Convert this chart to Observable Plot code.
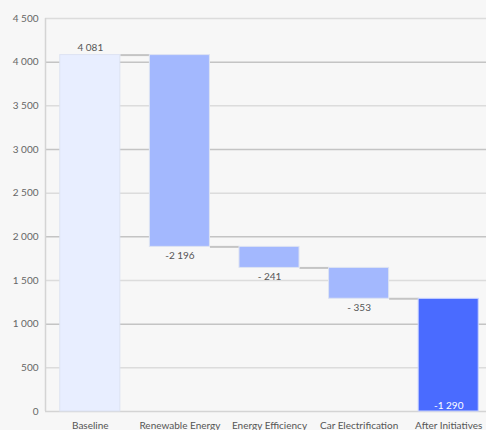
<!DOCTYPE html>
<html>
<head>
<meta charset="utf-8">
<script src="https://cdn.jsdelivr.net/npm/d3@7"></script>
<script src="https://cdn.jsdelivr.net/npm/@observablehq/plot@0.6"></script>
<style>
  html, body { margin: 0; padding: 0; background: #f7f7f7; }
  svg { display: block; }
</style>
</head>
<body>
<div id="chart"></div>
<script>
const categories = ["Baseline", "Renewable Energy", "Energy Efficiency", "Car Electrification", "After Initiatives"];
const values = [4081, -2196, -241, -353, 1290];
const valueLabels = ["4 081", "-2 196", "- 241", "- 353", "-1 290"];
const kinds = ["start", "change", "change", "change", "total"];
const yTicks = [0, 500, 1000, 1500, 2000, 2500, 3000, 3500, 4000, 4500];
const yTickLabels = ["0", "500", "1 000", "1 500", "2 000", "2 500", "3 000", "3 500", "4 000", "4 500"];

// build waterfall table
let running = 0;
const rows = categories.map((c, i) => {
  let y1, y2;
  if (kinds[i] === "change") { y1 = running; y2 = running + values[i]; running = y2; }
  else { y1 = 0; y2 = values[i]; running = values[i]; }
  return {i, c, kind: kinds[i], y1, y2, label: valueLabels[i], top: Math.max(y1, y2), bottom: Math.min(y1, y2)};
});
const connectors = rows.slice(0, -1).map((r, k) => ({x1: r.i + 0.335, x2: r.i + 1 - 0.335, y: r.kind === "change" ? r.y2 : r.y2}));
const half = 0.335;
const color = {start: "#e8eeff", change: "#a3b8fe", total: "#4a6bff"};

const chart = Plot.plot({
  width: 486,
  height: 430,
  marginTop: 18,
  marginBottom: 19,
  marginLeft: 45,
  marginRight: 0,
  style: {background: "#f7f7f7", fontFamily: "Lato, 'Open Sans', sans-serif", fontSize: "10px", color: "#666"},
  x: {domain: [-0.5, 4.5], range: [45, 493], axis: null},
  y: {domain: [0, 4500], range: [411, 18], axis: null},
  marks: [
    Plot.ruleY(yTicks.filter(t => t % 1000 !== 0), {stroke: "#dcdcdc", strokeWidth: 1.5}),
    Plot.ruleY(yTicks.filter(t => t % 1000 === 0 && t > 0), {stroke: "#c4c4c4", strokeWidth: 1.5}),
    Plot.ruleX([-0.5], {stroke: "#d4d4d4", strokeWidth: 1.5}),
    Plot.ruleY([0], {stroke: "#d4d4d4", strokeWidth: 1.5}),
    Plot.link(connectors, {x1: "x1", x2: "x2", y1: "y", y2: "y", stroke: "#c4c4c4", strokeWidth: 2}),
    Plot.rectY(rows, {
      x1: d => d.i - half, x2: d => d.i + half, y1: "y1", y2: "y2",
      fill: d => color[d.kind], stroke: d => d.kind === "total" ? "#c9d3ff" : "#dde3f2", strokeWidth: 1
    }),
    Plot.text(rows.filter(d => d.kind === "start"), {x: "i", y: "top", text: "label", dy: -7, fill: "#555", fontSize: 10}),
    Plot.text(rows.filter(d => d.kind === "change"), {x: "i", y: "bottom", text: "label", dy: 9, fill: "#555", fontSize: 10}),
    Plot.text(rows.filter(d => d.kind === "total"), {x: "i", y: 0, text: "label", dy: -6, fill: "#ffffff", fontSize: 10}),
    Plot.text(yTicks, {x: -0.5, y: d => d, text: (d, k) => yTickLabels[k], textAnchor: "end", dx: -7, fill: "#666", fontSize: 10}),
    Plot.text(categories, {x: (d, k) => k, y: 0, text: d => d, dy: 14, fill: "#555", fontSize: 10})
  ]
});
document.getElementById("chart").appendChild(chart);
</script>
</body>
</html>
